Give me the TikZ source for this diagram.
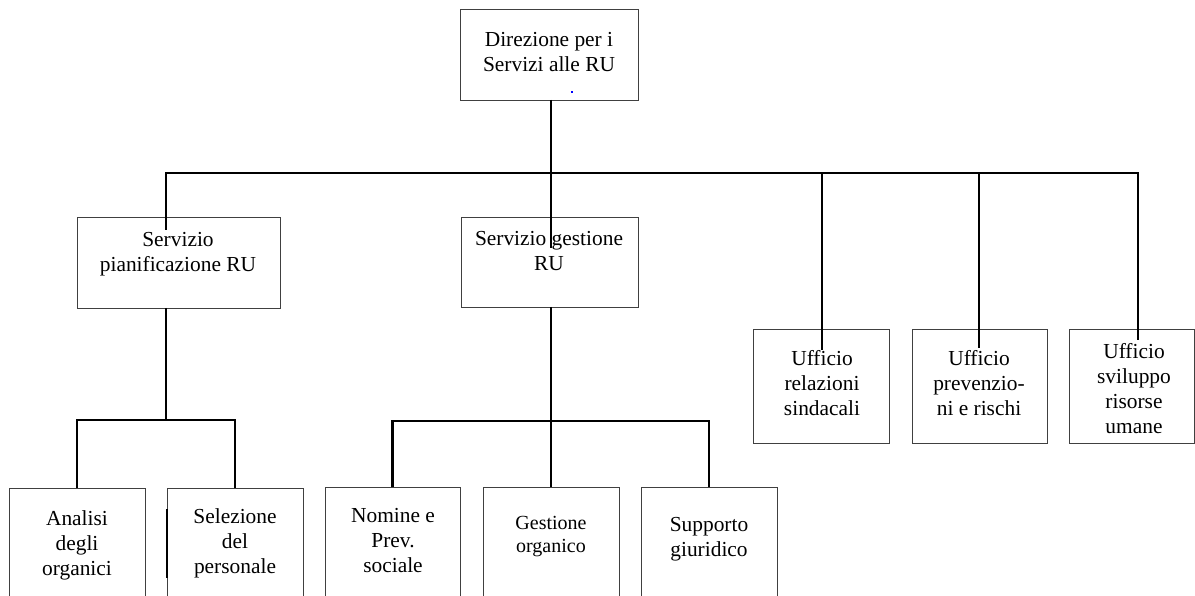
\documentclass[tikz,border=0pt]{standalone}
\usepackage{fontspec}
\setmainfont{Liberation Serif}
\begin{document}
\begin{tikzpicture}[x=1pt,y=-1pt,
  box/.style={draw=black!75,line width=0.9pt,anchor=north west,inner sep=0pt,outer sep=0pt},
  lblbase/.style={align=center,inner sep=0pt,anchor=north},
  lbl/.style={lblbase,yshift=14.8pt,font=\fontsize{21.4}{25}\selectfont},
  lblsmall/.style={lblbase,yshift=13.8pt,font=\fontsize{20}{23}\selectfont},
  conn/.style={line width=2.7pt,black,line join=miter}]
\useasboundingbox (0,0) rectangle (1195,596);
\clip (0,0) rectangle (1195,596);

% boxes
\node[box,minimum width=178pt,minimum height=91pt] (top)   at (460,9)   {};
\node[box,minimum width=203pt,minimum height=91pt] (spian) at (77,217)  {};
\node[box,minimum width=177pt,minimum height=90pt] (sgest) at (461,217) {};
\node[box,minimum width=136pt,minimum height=132pt] (ana)  at (9,488)   {};
\node[box,minimum width=136pt,minimum height=132pt] (sel)  at (167,488) {};
\node[box,minimum width=135pt,minimum height=133pt] (nom)  at (325,487) {};
\node[box,minimum width=136pt,minimum height=133pt] (ges)  at (483,487) {};
\node[box,minimum width=136pt,minimum height=133pt] (sup)  at (641,487) {};
\node[box,minimum width=136pt,minimum height=114pt] (rel)  at (753,329) {};
\node[box,minimum width=135pt,minimum height=114pt] (prev) at (912,329) {};
\node[box,minimum width=125.5pt,minimum height=114pt] (svi) at (1069,329) {};

% labels
\node[lbl] (tTop)   at (549,47)  {Direzione per i\\Servizi alle RU};
\node[lbl] (tSpian) at (178,247) {Servizio\\pianificazione RU};
\node[lbl] (tSgest) at (549,246) {Servizio gestione\\RU};
\node[lbl] (tAna)   at (77,525)  {Analisi\\degli\\organici};
\node[lbl] (tSel)   at (235,523) {Selezione\\del\\personale};
\node[lbl] (tNom)   at (393,523) {Nomine e\\Prev.\\sociale};
\node[lblsmall] (tGes) at (551,530) {Gestione\\organico};
\node[lbl] (tSup)   at (709,532) {Supporto\\giuridico};
\node[lbl] (tRel)   at (822,365) {Ufficio\\relazioni\\sindacali};
\node[lbl] (tPrev)  at (979,365) {Ufficio\\prevenzio-\\ni e rischi};
\node[lbl] (tSvi)   at (1134,358) {Ufficio\\sviluppo\\risorse\\umane};

% small blue mark in the top box
\node[fill=blue,inner sep=0pt,minimum size=2.5pt] (dot) at (572,92) {};

% junction points of the connectors
\coordinate (bus)  at (551,173);
\coordinate (k1)   at (166,230);
\coordinate (kg)   at (551,248);
\coordinate (k3)   at (822,350);
\coordinate (k4)   at (979,348);
\coordinate (k5)   at (1138,340);
\coordinate (sub1) at (166,420);
\coordinate (sub2) at (551,421);

% top level
\draw[conn] (top.south -| bus) -- (kg);
\draw[conn] (k1) -- (k1 |- bus) -- (k5 |- bus) -- (k5);
\draw[conn] (k3 |- bus) -- (k3);
\draw[conn] (k4 |- bus) -- (k4);

% under Servizio pianificazione RU
\draw[conn] (spian.south -| sub1) -- (sub1);
\draw[conn] (ana.north) -- (ana.north |- sub1) -- (sel.north |- sub1) -- (sel.north);

% under Servizio gestione RU
\draw[conn] (sgest.south -| sub2) -- (ges.north -| sub2);
\draw[conn] (nom.north) -- (nom.north |- sub2) -- (sup.north |- sub2) -- (sup.north);

% heavy stroke on the left side of Selezione
\coordinate (m1) at (167,509);
\coordinate (m2) at (167,578);
\draw[line width=2pt] (m1) -- (m2);
\end{tikzpicture}
\end{document}
